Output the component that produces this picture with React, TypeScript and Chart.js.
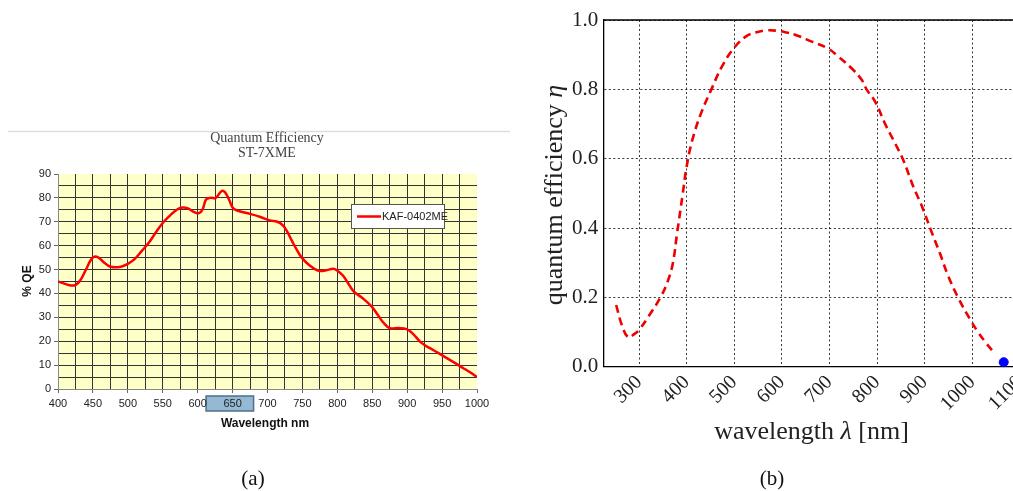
import React, { useEffect, useRef } from 'react';
import { Chart, registerables } from 'chart.js';

Chart.register(...registerables);

// ---------- Panel (a): ST-7XME quantum efficiency ----------
const qeWavelengths = [400, 410, 417, 425, 432, 440, 447, 452, 458, 465, 475, 490, 500, 510, 520, 530, 540, 550, 560, 570, 578, 586, 595, 602, 607, 612, 618, 626, 634, 639, 645, 651, 660, 675, 690, 703, 714, 722, 728, 735, 742, 749, 760, 772, 783, 794, 800, 808, 815, 823, 835, 849, 858, 866, 875, 888, 899, 908, 920, 932, 945, 958, 970, 980, 990, 1000];
const qeValues = [45, 44, 43.4, 43.5, 45.5, 50, 54, 55.4, 55, 53.2, 51.2, 51.2, 52.4, 54.5, 57.8, 61.2, 65.5, 69.5, 72.5, 75, 76, 75.6, 74, 73.6, 75.2, 79.3, 80, 80, 82.8, 82.4, 79.2, 75.6, 74.4, 73.3, 72, 70.6, 70, 68.5, 66, 62, 58.2, 55, 51.8, 49.6, 49.6, 50.3, 49.5, 47.5, 44.5, 41, 38.3, 34.6, 31, 27.8, 25.5, 25.5, 25.1, 23.2, 19.4, 17.2, 15, 12.7, 10.6, 8.8, 7, 5];
const qeSeriesLabel = 'KAF-0402ME';
const qeTitleLines = ['Quantum Efficiency', 'ST-7XME'];
const qeYTitle = '% QE';
const qeXTitle = 'Wavelength nm';
const qeHighlightedTick = 650;
const qeCaption = '(a)';

// ---------- Panel (b): quantum efficiency eta ----------
const etaWavelengths = [252, 264, 277, 290, 300, 320, 345, 360, 371, 380, 392, 400, 412, 430, 452, 475, 500, 524, 545, 566, 590, 610, 629, 663, 697, 719, 747, 768, 778, 797, 817, 838, 855, 876, 895, 913, 932, 949, 970, 996, 1012, 1028, 1044];
const etaValues = [0.178, 0.12, 0.085, 0.094, 0.106, 0.145, 0.2, 0.245, 0.298, 0.385, 0.5, 0.577, 0.654, 0.73, 0.8, 0.868, 0.92, 0.952, 0.964, 0.97, 0.969, 0.964, 0.957, 0.9375, 0.918, 0.894, 0.86, 0.827, 0.8, 0.762, 0.7, 0.644, 0.596, 0.52, 0.46, 0.394, 0.327, 0.263, 0.2, 0.135, 0.1, 0.07, 0.043];
const markerX = [1066];
const markerY = [0.013];
const etaXTicks = [300, 400, 500, 600, 700, 800, 900, 1000, 1100];
const etaYTicks = [0, 0.2, 0.4, 0.6, 0.8, 1.0];
const etaYTitle = 'quantum efficiency ';
const etaYTitleSymbol = 'η';
const etaXTitleParts = ['wavelength ', 'λ', ' [nm]'];
const etaCaption = '(b)';

const SERIF = '"Liberation Serif", "DejaVu Serif", serif';
const SANS = '"Liberation Sans", Arial, sans-serif';

const panelAPlugin = {
  id: 'panelA',
  beforeDraw(chart: any) {
    const { ctx, chartArea: ca } = chart;
    ctx.save();
    ctx.fillStyle = '#ffffc8';
    ctx.fillRect(ca.left, ca.top, ca.right - ca.left, ca.bottom - ca.top);
    const hx = chart.scales.x.getPixelForValue(qeHighlightedTick);
    ctx.fillStyle = '#93b9d3';
    ctx.fillRect(hx - 26.5, 396, 47.5, 15);
    ctx.strokeStyle = '#4f6f86';
    ctx.lineWidth = 1.5;
    ctx.strokeRect(hx - 26.5, 396, 47.5, 15);
    ctx.restore();
  },
  afterDraw(chart: any) {
    const { ctx } = chart;
    ctx.save();
    ctx.strokeStyle = '#dddddd';
    ctx.lineWidth = 1.5;
    ctx.beginPath();
    ctx.moveTo(8, 131.5);
    ctx.lineTo(510, 131.5);
    ctx.stroke();
    ctx.fillStyle = '#444';
    ctx.font = `14px ${SERIF}`;
    ctx.textAlign = 'center';
    ctx.textBaseline = 'middle';
    ctx.fillText(qeTitleLines[0], 267, 138);
    ctx.fillText(qeTitleLines[1], 267, 153.5);
    ctx.fillStyle = '#111';
    ctx.font = `bold 12px ${SANS}`;
    ctx.fillText(qeXTitle, 265, 424);
    ctx.save();
    ctx.translate(28, 281);
    ctx.rotate(-Math.PI / 2);
    ctx.fillText(qeYTitle, 0, 0);
    ctx.restore();
    const ds = chart.data.datasets[0];
    ctx.fillStyle = '#ffffff';
    ctx.fillRect(351, 204, 93, 24);
    ctx.strokeStyle = '#555';
    ctx.lineWidth = 1;
    ctx.strokeRect(351.5, 204.5, 93, 24);
    ctx.strokeStyle = ds.borderColor;
    ctx.lineWidth = 2.5;
    ctx.beginPath();
    ctx.moveTo(357, 216.5);
    ctx.lineTo(381, 216.5);
    ctx.stroke();
    ctx.fillStyle = '#222';
    ctx.font = `11px ${SANS}`;
    ctx.textAlign = 'left';
    ctx.fillText(ds.label, 382, 216.5);
    ctx.fillStyle = '#111';
    ctx.font = `21px ${SERIF}`;
    ctx.textAlign = 'center';
    ctx.fillText(qeCaption, 253, 479);
    ctx.restore();
  },
};

const panelBPlugin = {
  id: 'panelB',
  afterDraw(chart: any) {
    const { ctx, chartArea: ca } = chart;
    ctx.save();
    ctx.strokeStyle = '#000';
    ctx.lineWidth = 1.3;
    ctx.beginPath();
    ctx.moveTo(ca.left, ca.top);
    ctx.lineTo(ca.right, ca.top);
    ctx.lineTo(ca.right, ca.bottom);
    ctx.stroke();
    ctx.fillStyle = '#222';
    ctx.textBaseline = 'middle';
    const fN = `26px ${SERIF}`;
    const fI = `italic 26px ${SERIF}`;
    ctx.font = fN;
    const w0 = ctx.measureText(etaXTitleParts[0]).width;
    const w2 = ctx.measureText(etaXTitleParts[2]).width;
    ctx.font = fI;
    const w1 = ctx.measureText(etaXTitleParts[1]).width;
    const total = w0 + w1 + w2;
    let x = 811.5 - 520 - total / 2;
    ctx.textAlign = 'left';
    ctx.font = fN;
    ctx.fillText(etaXTitleParts[0], x, 432);
    x += w0;
    ctx.font = fI;
    ctx.fillText(etaXTitleParts[1], x, 432);
    x += w1;
    ctx.font = fN;
    ctx.fillText(etaXTitleParts[2], x, 432);
    ctx.save();
    ctx.translate(555 - 520, 195);
    ctx.rotate(-Math.PI / 2);
    ctx.font = fN;
    const a = ctx.measureText(etaYTitle).width;
    ctx.font = fI;
    const b = ctx.measureText(etaYTitleSymbol).width;
    const y0 = -(a + b) / 2;
    ctx.font = fN;
    ctx.fillText(etaYTitle, y0, 0);
    ctx.font = fI;
    ctx.fillText(etaYTitleSymbol, y0 + a, 0);
    ctx.restore();
    ctx.fillStyle = '#111';
    ctx.font = `21px ${SERIF}`;
    ctx.textAlign = 'center';
    ctx.fillText(etaCaption, 772 - 520, 479);
    ctx.restore();
  },
};

export default function App() {
  const refA = useRef<HTMLCanvasElement>(null);
  const refB = useRef<HTMLCanvasElement>(null);

  useEffect(() => {
    const chartA = new Chart(refA.current as HTMLCanvasElement, {
      type: 'line',
      data: {
        datasets: [
          {
            label: qeSeriesLabel,
            data: qeWavelengths.map((w, i) => ({ x: w, y: qeValues[i] })),
            borderColor: '#ff0000',
            borderWidth: 2.5,
            pointRadius: 0,
            tension: 0.4,
            fill: false,
          },
        ],
      },
      options: {
        responsive: false,
        animation: false,
        devicePixelRatio: 1,
        layout: { padding: { left: 0, top: 174, right: 43, bottom: 0 } },
        plugins: { legend: { display: false }, tooltip: { enabled: false }, title: { display: false } },
        scales: {
          x: {
            type: 'linear',
            min: 400,
            max: 1000,
            afterFit: (s: any) => { s.height = 102; },
            ticks: {
              stepSize: 25,
              autoSkip: false,
              maxRotation: 0,
              padding: 4,
              color: '#222',
              font: { family: SANS, size: 11 },
              callback: (v: any) => (Number(v) % 50 === 0 ? String(v) : ''),
            },
            grid: {
              color: (c: any) => (c.tick && c.tick.value === 1000 ? 'rgba(0,0,0,0)' : '#333'),
              tickColor: (c: any) => (c.tick && c.tick.value % 50 === 0 ? '#666' : 'rgba(0,0,0,0)'),
              tickLength: 4,
              lineWidth: 1,
            },
            border: { color: '#888', width: 1 },
          },
          y: {
            type: 'linear',
            min: 0,
            max: 90,
            afterFit: (s: any) => { s.width = 58; },
            ticks: {
              stepSize: 5,
              autoSkip: false,
              padding: 3,
              color: '#222',
              font: { family: SANS, size: 11 },
              callback: (v: any) => (Number(v) % 10 === 0 ? String(v) : ''),
            },
            grid: {
              color: (c: any) => (c.tick && c.tick.value === 90 ? 'rgba(0,0,0,0)' : '#333'),
              tickColor: (c: any) => (c.tick && c.tick.value % 10 === 0 ? '#666' : 'rgba(0,0,0,0)'),
              tickLength: 4,
              lineWidth: 1,
            },
            border: { color: '#888', width: 1 },
          },
        },
      },
      plugins: [panelAPlugin],
    } as any);

    const chartB = new Chart(refB.current as HTMLCanvasElement, {
      type: 'line',
      data: {
        datasets: [
          {
            label: 'eta',
            data: etaWavelengths.map((w, i) => ({ x: w, y: etaValues[i] })),
            borderColor: '#ee0000',
            borderWidth: 2.6,
            borderDash: [8, 5],
            pointRadius: 0,
            tension: 0.4,
            fill: false,
          },
          {
            label: 'marker',
            type: 'scatter',
            data: markerX.map((w, i) => ({ x: w, y: markerY[i] })),
            backgroundColor: '#0000ff',
            borderColor: '#0000ff',
            pointRadius: 4.5,
            showLine: false,
          },
        ],
      },
      options: {
        responsive: false,
        animation: false,
        devicePixelRatio: 1,
        clip: false,
        layout: { padding: { left: 0, top: 20, right: 40.1, bottom: 0 } },
        plugins: { legend: { display: false }, tooltip: { enabled: false } },
        scales: {
          x: {
            type: 'linear',
            min: 225,
            max: 1100,
            afterFit: (s: any) => { s.height = 124.3; },
            afterBuildTicks: (s: any) => { s.ticks = etaXTicks.map((v) => ({ value: v })); },
            ticks: {
              autoSkip: false,
              minRotation: 45,
              maxRotation: 45,
              padding: 4,
              color: '#222',
              font: { family: SERIF, size: 20 },
              callback: (v: any) => String(v),
            },
            grid: { color: '#000', lineWidth: 0.8, drawTicks: false },
            border: { color: '#000', width: 1.3, dash: [2, 2.5] },
          },
          y: {
            type: 'linear',
            min: 0,
            max: 1,
            afterFit: (s: any) => { s.width = 83.3; },
            afterBuildTicks: (s: any) => { s.ticks = etaYTicks.map((v) => ({ value: v })); },
            ticks: {
              autoSkip: false,
              padding: 5,
              color: '#222',
              font: { family: SERIF, size: 21 },
              callback: (v: any) => Number(v).toFixed(1),
            },
            grid: { color: '#000', lineWidth: 0.8, drawTicks: false },
            border: { color: '#000', width: 1.3, dash: [2, 2.5] },
          },
        },
      },
      plugins: [panelBPlugin],
    } as any);

    return () => {
      chartA.destroy();
      chartB.destroy();
    };
  }, []);

  return (
    <div style={{ position: 'absolute', left: 0, top: 0, width: 1013, height: 491, overflow: 'hidden', background: '#fff' }}>
      <canvas ref={refA} width={520} height={491} style={{ position: 'absolute', left: 0, top: 0 }} />
      <canvas ref={refB} width={540} height={491} style={{ position: 'absolute', left: 520, top: 0 }} />
    </div>
  );
}
